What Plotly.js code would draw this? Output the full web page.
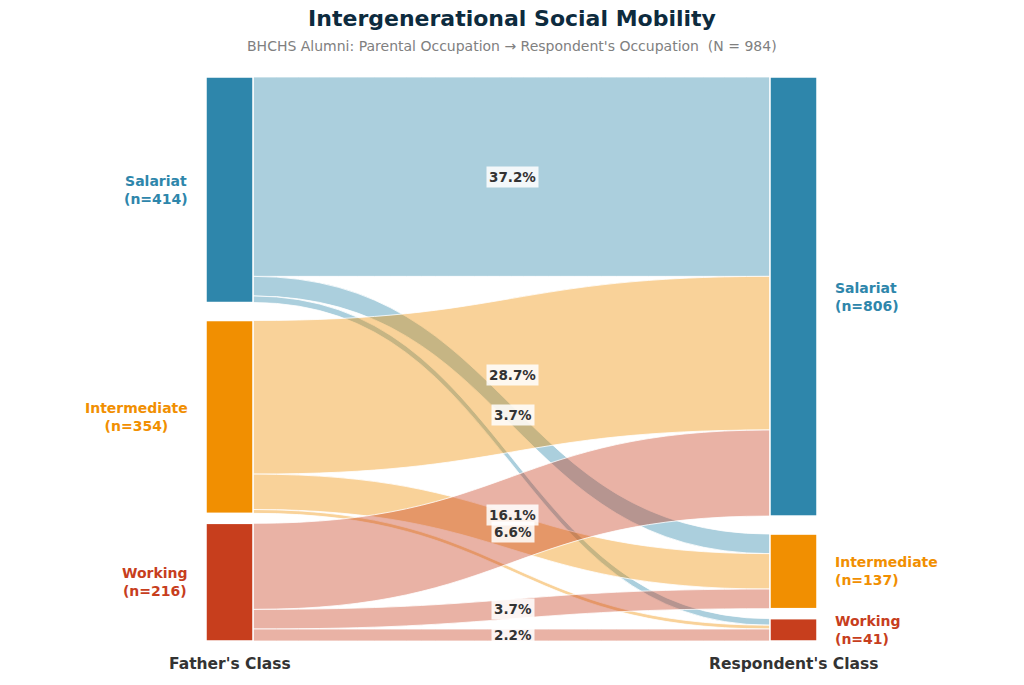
<!DOCTYPE html>
<html>
<head>
<meta charset="utf-8">
<script src="https://cdn.plot.ly/plotly-3.0.1.min.js"></script>
<style>
  html, body { margin: 0; padding: 0; background: #fff; }
  #chart { width: 1024px; height: 685px; }
</style>
</head>
<body>
<div id="chart"></div>
<script>
// father's class (left) -> respondent's class (right)
const classes = ["Salariat", "Intermediate", "Working"];
const classColors = ["#2E86AB", "#F18F01", "#C73E1D"];
const flowSource = [0, 0, 0, 1, 1, 1, 2, 2, 2];
const flowTarget = [0, 1, 2, 0, 1, 2, 0, 1, 2];
const flowCount = [366, 36, 12, 282, 65, 7, 158, 36, 22];

// page geometry (pixels)
const W = 1024, H = 685;
const topY = 77, bottomY = 641;
const pad = 14;
const gaps = [18, 10];
const leftX = 229.5, rightX = 793.5, thick = 47;

const total = flowCount.reduce((a, b) => a + b, 0);
const fatherTotals = classes.map((_, i) => flowCount.filter((_, k) => flowSource[k] === i).reduce((a, b) => a + b, 0));
const childTotals = classes.map((_, j) => flowCount.filter((_, k) => flowTarget[k] === j).reduce((a, b) => a + b, 0));

const ky = (bottomY - topY - 2 * pad) / total;

function columnTops(totals) {
  const tops = [];
  let y = topY;
  totals.forEach((v, i) => {
    tops.push(y);
    y += v * ky + (gaps[i] || 0);
  });
  return tops;
}
const leftTops = columnTops(fatherTotals);
const rightTops = columnTops(childTotals);

function fade(hex, a) {
  const n = parseInt(hex.slice(1), 16);
  return `rgba(${n >> 16},${(n >> 8) & 255},${n & 255},${a})`;
}

const spanH = bottomY - topY;
const nodeY = [
  ...fatherTotals.map((v, i) => (leftTops[i] + v * ky / 2 - topY) / spanH),
  ...childTotals.map((v, i) => (rightTops[i] + v * ky / 2 - topY) / spanH),
];
const nodeX = [...classes.map(() => leftX / W), ...classes.map(() => rightX / W)];

const trace = {
  type: "sankey",
  arrangement: "fixed",
  domain: { x: [0, 1], y: [1 - bottomY / H, 1 - topY / H] },
  hoverinfo: "none",
  node: {
    label: classes.concat(classes).map(() => ""),
    color: classColors.concat(classColors),
    x: nodeX,
    y: nodeY,
    pad: pad,
    thickness: thick,
    line: { color: "#ffffff", width: 1.5 },
    hoverinfo: "none",
  },
  link: {
    source: flowSource,
    target: flowTarget.map((t) => t + 3),
    value: flowCount,
    color: flowSource.map((s) => fade(classColors[s], 0.4)),
    line: { color: "#ffffff", width: 0.8 },
    hoverinfo: "none",
  },
};

// where each link sits at both ends, to place its % label
const leftOff = classes.map(() => 0), rightOff = classes.map(() => 0);
const order = flowCount.map((_, k) => k);
const yLeft = [], yRight = [];
order.slice().sort((a, b) => flowSource[a] - flowSource[b] || flowTarget[a] - flowTarget[b]).forEach((k) => {
  const w = flowCount[k] * ky;
  yLeft[k] = leftTops[flowSource[k]] + leftOff[flowSource[k]] + w / 2;
  leftOff[flowSource[k]] += w;
});
order.slice().sort((a, b) => flowTarget[a] - flowTarget[b] || flowSource[a] - flowSource[b]).forEach((k) => {
  const w = flowCount[k] * ky;
  yRight[k] = rightTops[flowTarget[k]] + rightOff[flowTarget[k]] + w / 2;
  rightOff[flowTarget[k]] += w;
});

const pctLabels = order
  .filter((k) => flowCount[k] / total >= 0.02)
  .map((k) => ({ text: (100 * flowCount[k] / total).toFixed(1) + "%", y: (yLeft[k] + yRight[k]) / 2 }))
  .sort((a, b) => a.y - b.y);
for (let i = pctLabels.length - 1; i > 0; i--) {
  if (pctLabels[i].y - pctLabels[i - 1].y < 17) pctLabels[i - 1].y = pctLabels[i].y - 17;
}

const midX = ((leftX + thick / 2) + (rightX - thick / 2)) / 2;
const annotations = [];
function note(px, py, text, font, extra) {
  annotations.push(Object.assign({
    xref: "paper", yref: "paper", x: px / W, y: 1 - py / H,
    xanchor: "center", yanchor: "middle", showarrow: false,
    text: text, font: Object.assign({ family: "DejaVu Sans" }, font),
  }, extra || {}));
}

pctLabels.forEach((p) => {
  note(midX + 1, p.y, `<b>${p.text}</b>`, { size: 13.5, color: "#333333" },
    { bgcolor: "rgba(255,255,255,0.85)", borderpad: 2 });
});

classes.forEach((c, i) => {
  note(leftX - thick / 2 - 16, leftTops[i] + fatherTotals[i] * ky / 2,
    `<b>${c}<br>(n=${fatherTotals[i]})</b>`, { size: 14, color: classColors[i] },
    { xanchor: "right", align: "center" });
  note(rightX + thick / 2 + 16, rightTops[i] + childTotals[i] * ky / 2,
    `<b>${c}<br>(n=${childTotals[i]})</b>`, { size: 14, color: classColors[i] },
    { xanchor: "left", align: "left" });
});

note(512, 46, `BHCHS Alumni: Parental Occupation → Respondent's Occupation&nbsp; (N = ${total})`,
  { size: 14, color: "#808080" });
note(leftX, 664, "<b>Father's Class</b>", { size: 15.5, color: "#333333" });
note(rightX, 664, "<b>Respondent's Class</b>", { size: 15.5, color: "#333333" });

const layout = {
  width: W, height: H,
  margin: { l: 0, r: 0, t: 0, b: 0 },
  paper_bgcolor: "#ffffff",
  font: { family: "DejaVu Sans" },
  title: {
    text: "<b>Intergenerational Social Mobility</b>",
    x: 0.5, xanchor: "center", y: 1 - 18 / H, yanchor: "middle", yref: "container",
    font: { family: "DejaVu Sans", size: 22, color: "#0D2B3E" },
  },
  annotations: annotations,
};

Plotly.newPlot("chart", [trace], layout, { displayModeBar: false, staticPlot: true });
</script>
</body>
</html>
